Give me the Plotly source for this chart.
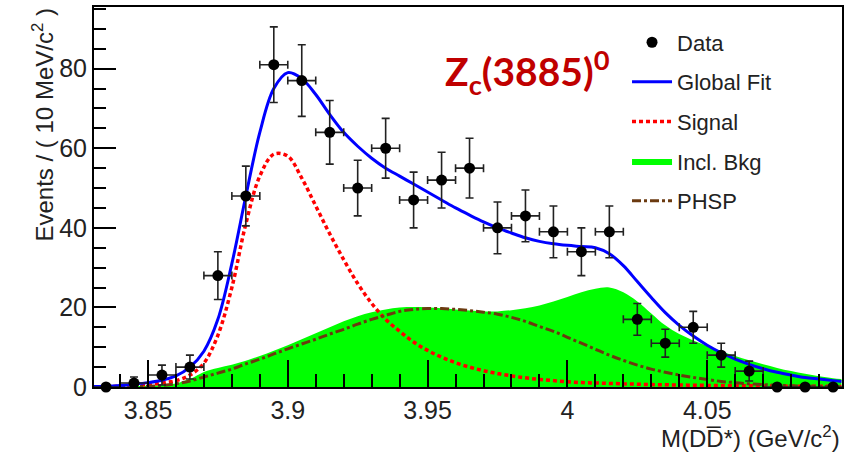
import plotly.graph_objects as go

# ---- data ----
bin_centers = [3.835, 3.845, 3.855, 3.865, 3.875, 3.885, 3.895, 3.905, 3.915, 3.925,
               3.935, 3.945, 3.955, 3.965, 3.975, 3.985, 3.995, 4.005, 4.015, 4.025,
               4.035, 4.045, 4.055, 4.065, 4.075, 4.085, 4.095]
counts = [0, 1, 3, 5, 28, 48, 81, 77, 64, 50,
          60, 47, 52, 55, 40, 43, 39, 34, 39, 17,
          11, 15, 8, 4, 0, 0, 0]
count_err = [0, 1.5, 2.5, 3, 6, 7.5, 9.5, 9, 8, 7,
             7.5, 7, 7, 7.5, 6.5, 6.5, 6.5, 6, 6.5, 4,
             3.5, 4, 3, 2.5, 0, 0, 0]
bin_half_width = [0.005] * len(bin_centers)

curve_x = [3.830, 3.835, 3.840, 3.845, 3.850, 3.855, 3.860, 3.865, 3.870, 3.875,
           3.880, 3.885, 3.890, 3.895, 3.900, 3.905, 3.910, 3.915, 3.920, 3.925,
           3.930, 3.935, 3.940, 3.945, 3.950, 3.955, 3.960, 3.965, 3.970, 3.975,
           3.980, 3.985, 3.990, 3.995, 4.000, 4.005, 4.010, 4.015, 4.020, 4.025,
           4.030, 4.035, 4.040, 4.045, 4.050, 4.055, 4.060, 4.065, 4.070, 4.075,
           4.080, 4.085, 4.090, 4.095, 4.098]
global_fit = [0.1, 0.2, 0.4, 0.7, 1.1, 1.7, 2.8, 5, 9, 17,
              31, 48, 64, 75, 79, 77.5, 73.5, 68.5, 64, 60.5,
              57.5, 55, 53, 51, 49, 47, 45, 43.2, 41.5, 40,
              38.7, 37.5, 36.6, 36, 35.6, 35.3, 35, 33.5, 30.5, 26.5,
              22.5, 18.7, 15.5, 12.8, 10.5, 8.6, 7, 5.7, 4.6, 3.7,
              3, 2.4, 2, 1.6, 1.4]
signal = [0, 0.1, 0.2, 0.4, 0.6, 1, 1.6, 3, 6, 13,
          25, 41, 53, 58.5, 58, 52.5, 45.5, 38.5, 32, 26,
          21, 17, 14, 11.3, 9.2, 7.5, 6.1, 5, 4.1, 3.4,
          2.8, 2.3, 1.9, 1.6, 1.3, 1.1, 1, 0.9, 0.8, 0.7,
          0.6, 0.55, 0.5, 0.45, 0.4, 0.35, 0.3, 0.3, 0.25, 0.25,
          0.2, 0.2, 0.2, 0.15, 0.15]
incl_bkg = [0, 0, 0.1, 0.2, 0.3, 0.5, 0.9, 2, 3.8, 4.8,
            5.6, 6.6, 7.8, 9.1, 10.5, 12, 13.5, 15, 16.5, 17.8,
            18.8, 19.5, 20, 20.1, 20, 19.8, 19.5, 19.2, 19, 19,
            19.3, 19.8, 20.5, 21.5, 22.6, 23.8, 24.7, 25, 23.8, 21.5,
            18.5, 15.5, 13.3, 11.7, 10.3, 9, 7.8, 6.7, 5.7, 4.8,
            4, 3.3, 2.7, 2.2, 2]
phsp = [0, 0, 0.05, 0.1, 0.2, 0.4, 0.8, 1.5, 2.5, 3.5,
        4.5, 5.8, 7, 8.3, 9.6, 10.8, 12, 13.3, 14.5, 15.8,
        17, 18, 19, 19.5, 19.7, 19.7, 19.5, 19.2, 18.8, 18.3,
        17.5, 16.5, 15.2, 14, 12.5, 11, 9.5, 8, 6.7, 5.5,
        4.5, 3.7, 3, 2.4, 1.9, 1.4, 1.1, 0.8, 0.6, 0.45,
        0.3, 0.2, 0.15, 0.1, 0.1]

x_tick_vals = [3.85, 3.9, 3.95, 4.0, 4.05]
x_tick_text = ["3.85", "3.9", "3.95", "4", "4.05"]
y_tick_vals = [0, 20, 40, 60, 80]
y_tick_text = ["0", "20", "40", "60", "80"]

FONT = "Liberation Sans, Arial, sans-serif"
TXT = "#222222"

fig = go.Figure()

fig.add_trace(go.Scatter(
    x=curve_x, y=incl_bkg, mode="lines", name="Incl. Bkg",
    line=dict(color="#00ff00", width=0, shape="spline"),
    fill="tozeroy", fillcolor="#00ff00",
    legendrank=4, legendgroup="g4"))
fig.add_trace(go.Scatter(
    x=curve_x, y=signal, mode="lines", name="Signal",
    line=dict(color="#ff0000", width=3.5, dash="4px,3px", shape="spline"),
    legendrank=3, legendgroup="g3"))
fig.add_trace(go.Scatter(
    x=curve_x, y=phsp, mode="lines", name="PHSP",
    line=dict(color="#6b3a10", width=3, dash="dashdot", shape="spline"),
    legendrank=5, legendgroup="g5"))
fig.add_trace(go.Scatter(
    x=curve_x, y=global_fit, mode="lines", name="Global Fit",
    line=dict(color="#0000ff", width=3, shape="spline"),
    legendrank=2, legendgroup="g2"))
fig.add_trace(go.Scatter(
    x=bin_centers, y=counts, mode="markers", name="Data",
    marker=dict(color="black", size=11),
    error_y=dict(type="data", array=count_err, color=TXT, thickness=1.6, width=4),
    error_x=dict(type="data", array=bin_half_width, color=TXT, thickness=1.6, width=4),
    cliponaxis=False,
    legendrank=1, legendgroup="g1"))

fig.add_annotation(
    text="Z<sub>c</sub>(3885)<sup>0</sup>",
    xref="paper", yref="paper", x=0.467, y=0.83,
    xanchor="left", yanchor="middle", showarrow=False,
    font=dict(family="Lato, Open Sans, sans-serif", size=39, color="#c00000", weight="bold"))

# axis titles (ROOT style: aligned to the end of the axis)
fig.add_annotation(
    text="M(DD\u0305*) (GeV/c<sup>2</sup>)",
    xref="paper", yref="paper", x=1.0, y=-0.131,
    xanchor="right", yanchor="middle", showarrow=False,
    font=dict(family=FONT, size=24, color=TXT))
fig.add_annotation(
    text="Events / ( 10 MeV/c<sup>2</sup> )",
    xref="paper", yref="paper", x=-0.0695, y=1.0,
    xanchor="center", yanchor="top", textangle=-90, showarrow=False,
    font=dict(family=FONT, size=24, color=TXT))

fig.update_layout(
    width=862, height=456,
    margin=dict(l=94, r=20, t=5, b=69),
    paper_bgcolor="white", plot_bgcolor="white",
    font=dict(family=FONT, color="black"),
    showlegend=True,
    legend=dict(x=0.7126, y=0.962, xanchor="left", yanchor="top",
                bgcolor="rgba(0,0,0,0)", font=dict(size=22, color=TXT),
                tracegroupgap=8, traceorder="grouped", itemwidth=40),
    xaxis=dict(
        range=[3.8307, 4.0982],
        tickmode="array", tickvals=x_tick_vals, ticktext=x_tick_text,
        ticks="inside", ticklen=27, tickwidth=2, tickcolor="black",
        minor=dict(dtick=0.01, tick0=3.85, ticks="inside", ticklen=13, tickwidth=1.6, tickcolor="black"),
        showline=True, linecolor="black", linewidth=2, mirror=True,
        showgrid=False, zeroline=False,
        tickfont=dict(size=25, color=TXT),
    ),
    yaxis=dict(
        range=[0, 95.5],
        tickmode="array", tickvals=y_tick_vals, ticktext=y_tick_text,
        ticks="inside", ticklen=22, tickwidth=2, tickcolor="black",
        minor=dict(dtick=5, ticks="inside", ticklen=12, tickwidth=1.6, tickcolor="black"),
        showline=True, linecolor="black", linewidth=2, mirror=True,
        showgrid=False, zeroline=False,
        tickfont=dict(size=25, color=TXT),
    ),
)

fig.write_html("out.html")
